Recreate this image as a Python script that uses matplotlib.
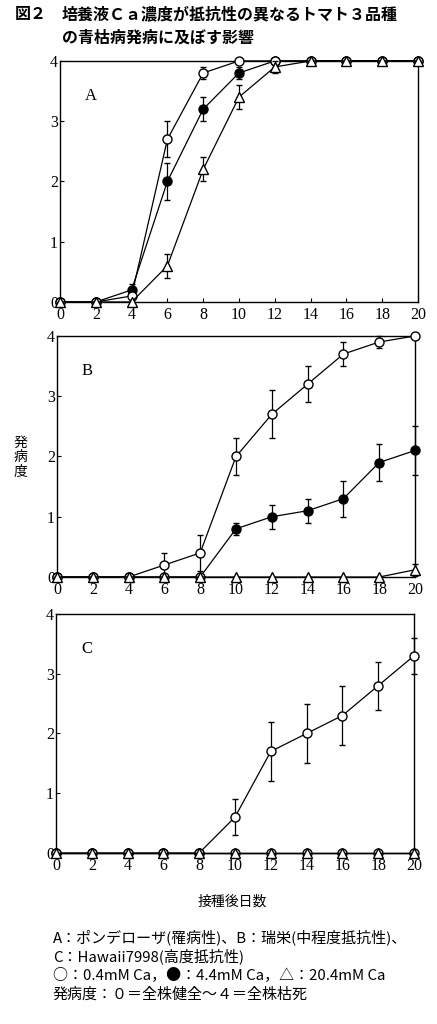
import matplotlib
matplotlib.use("Agg")
import matplotlib.pyplot as plt
import numpy as np

plt.rcParams['font.family'] = ['Noto Sans CJK JP', 'DejaVu Sans']

days = [0, 2, 4, 6, 8, 10, 12, 14, 16, 18, 20]
x_ticks = [0, 2, 4, 6, 8, 10, 12, 14, 16, 18, 20]
y_ticks = [0, 1, 2, 3, 4]

# Panel A: ポンデローザ
A_low = [0, 0, 0.1, 2.7, 3.8, 4.0, 4.0, 4.0, 4.0, 4.0, 4.0]
A_low_err = [0, 0, 0, 0.3, 0.1, 0, 0, 0, 0, 0, 0]
A_mid = [0, 0, 0.2, 2.0, 3.2, 3.8, 4.0, 4.0, 4.0, 4.0, 4.0]
A_mid_err = [0, 0, 0.1, 0.3, 0.2, 0.1, 0, 0, 0, 0, 0]
A_high = [0, 0, 0, 0.6, 2.2, 3.4, 3.9, 4.0, 4.0, 4.0, 4.0]
A_high_err = [0, 0, 0, 0.2, 0.2, 0.2, 0.1, 0, 0, 0, 0]

# Panel B: 瑞栄
B_low = [0, 0, 0, 0.2, 0.4, 2.0, 2.7, 3.2, 3.7, 3.9, 4.0]
B_low_err = [0, 0, 0, 0.2, 0.3, 0.3, 0.4, 0.3, 0.2, 0.1, 0]
B_mid = [0, 0, 0, 0, 0, 0.8, 1.0, 1.1, 1.3, 1.9, 2.1]
B_mid_err = [0, 0, 0, 0, 0, 0.1, 0.2, 0.2, 0.3, 0.3, 0.4]
B_high = [0, 0, 0, 0, 0, 0, 0, 0, 0, 0, 0.12]
B_high_err = [0, 0, 0, 0, 0, 0, 0, 0, 0, 0, 0.1]

# Panel C: Hawaii7998
C_low = [0, 0, 0, 0, 0, 0.6, 1.7, 2.0, 2.3, 2.8, 3.3]
C_low_err = [0, 0, 0, 0, 0, 0.3, 0.5, 0.5, 0.5, 0.4, 0.3]
C_mid = [0, 0, 0, 0, 0, 0, 0, 0, 0, 0, 0]
C_mid_err = [0, 0, 0, 0, 0, 0, 0, 0, 0, 0, 0]
C_high = [0, 0, 0, 0, 0, 0, 0, 0, 0, 0, 0]
C_high_err = [0, 0, 0, 0, 0, 0, 0, 0, 0, 0, 0]

panel_labels = ['A', 'B', 'C']

fig = plt.figure(figsize=(4.37, 10.24), dpi=100)

positions = [
    [0.1373, 0.7051, 0.8192, 0.2354],
    [0.1304, 0.4365, 0.8192, 0.2354],
    [0.1281, 0.1670, 0.8192, 0.2334],
]

panels = [
    (A_low, A_low_err, A_mid, A_mid_err, A_high, A_high_err),
    (B_low, B_low_err, B_mid, B_mid_err, B_high, B_high_err),
    (C_low, C_low_err, C_mid, C_mid_err, C_high, C_high_err),
]

serif = 'Liberation Serif'
ms = 6.5
lw = 0.9

for pos, data, lab in zip(positions, panels, panel_labels):
    ax = fig.add_axes(pos)
    low, low_e, mid, mid_e, high, high_e = data
    # where the 4.4 mM point coincides with the 20.4 mM point, the symbol is
    # drawn as the combined (open) symbol, as in the original
    show_mid = [m != h for m, h in zip(mid, high)]
    hide_mid = [not s for s in show_mid]
    ax.errorbar(days, mid, yerr=mid_e, color='black', lw=lw, elinewidth=lw,
                capsize=2, capthick=lw, marker='o', ms=ms, mfc='black',
                mec='black', mew=1, zorder=3, clip_on=False, markevery=show_mid)
    ax.plot(days, mid, ls='none', marker='o', ms=ms, mfc='white', mec='black',
            mew=1, zorder=3.5, clip_on=False, markevery=hide_mid)
    ax.errorbar(days, low, yerr=low_e, color='black', lw=lw, elinewidth=lw,
                capsize=2, capthick=lw, marker='o', ms=ms, mfc='white',
                mec='black', mew=1, zorder=4, clip_on=False)
    ax.errorbar(days, high, yerr=high_e, color='black', lw=lw, elinewidth=lw,
                capsize=2, capthick=lw, marker='^', ms=ms + 0.5, mfc='white',
                mec='black', mew=1, zorder=5, clip_on=False)
    ax.set_xlim(0, 20)
    ax.set_ylim(0, 4)
    ax.set_xticks(x_ticks)
    ax.set_yticks(y_ticks)
    ax.set_xticklabels([str(t) for t in x_ticks], fontfamily=serif, fontsize=11.5)
    ax.set_yticklabels([str(t) for t in y_ticks], fontfamily=serif, fontsize=11.5)
    ax.tick_params(direction='in', length=3, width=0.8)
    ax.tick_params(axis='x', pad=3.5)
    ax.tick_params(axis='y', pad=1.5)
    for s in ax.spines.values():
        s.set_linewidth(1.0)
    ax.text(1.7, 3.42, lab, fontfamily=serif, fontsize=12, ha='center', va='center')

# Title
fig.text(0.034, 0.986, '図２', fontsize=11.5, fontweight='bold', va='center', ha='left')
fig.text(0.142, 0.986, '培養液Ｃａ濃度が抵抗性の異なるトマト３品種',
         fontsize=11.5, fontweight='bold', va='center', ha='left')
fig.text(0.142, 0.963, 'の青枯病発病に及ぼす影響',
         fontsize=11.5, fontweight='bold', va='center', ha='left')

# Y label (vertical stacked)
fig.text(0.046, 1 - 457 / 1024, '発\n病\n度', fontsize=10, va='center', ha='center',
         linespacing=1.05)

# X label
fig.text(232 / 437, 1 - 902 / 1024, '接種後日数', fontsize=10, va='center', ha='center')

# Footnotes
notes = [
    'A：ポンデローザ(罹病性)、B：瑞栄(中程度抵抗性)、',
    'C：Hawaii7998(高度抵抗性)',
    '○：0.4mM Ca，●：4.4mM Ca，△：20.4mM Ca',
    '発病度：０＝全株健全～４＝全株枯死',
]
ys = [937, 956, 975, 995]
for t, y in zip(notes, ys):
    fig.text(53 / 437, 1 - y / 1024, t, fontsize=10.8, va='center', ha='left')

fig.savefig('out.png', dpi=100, facecolor='white')
